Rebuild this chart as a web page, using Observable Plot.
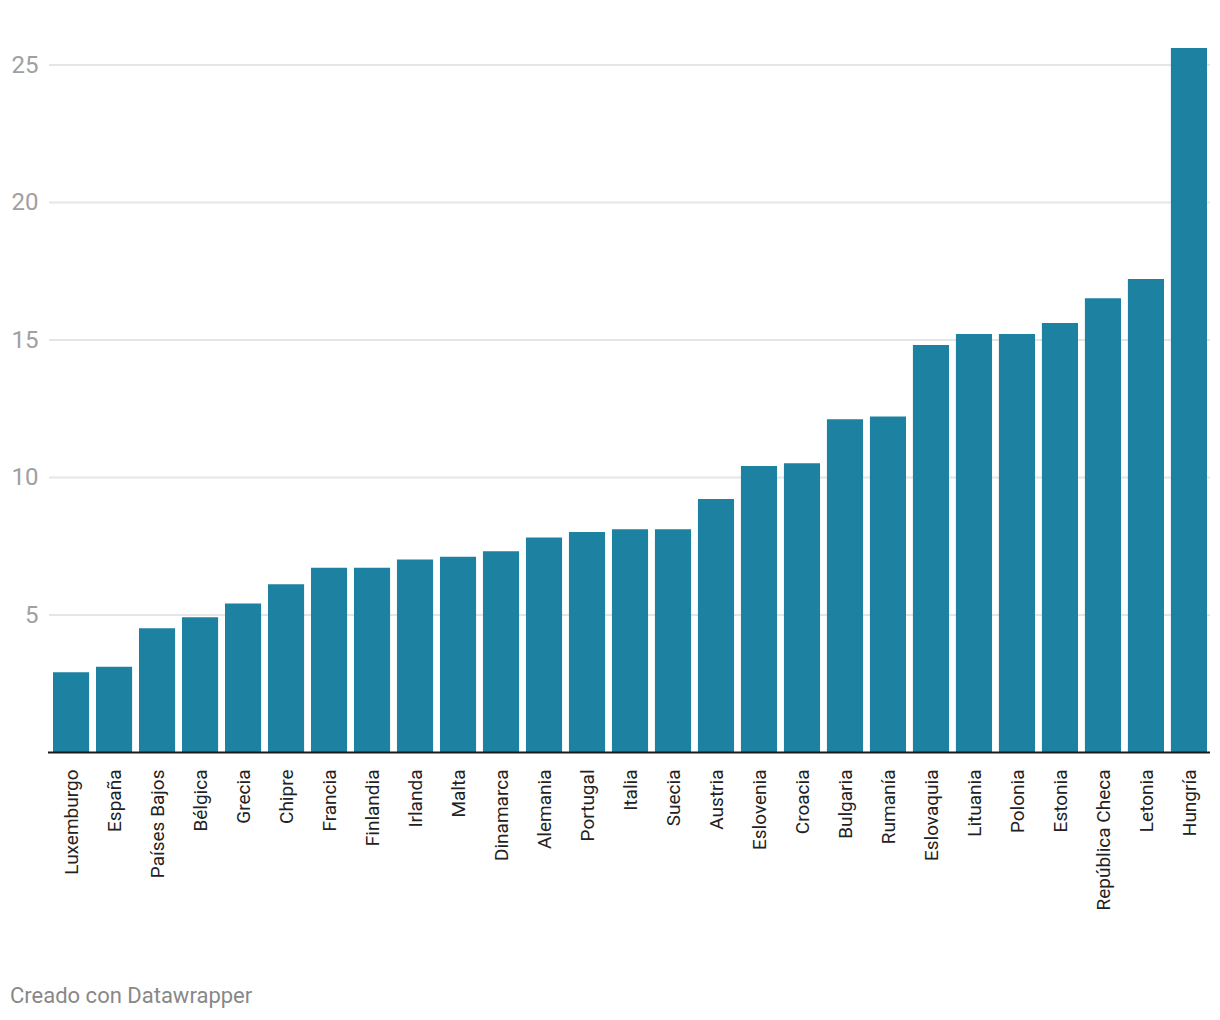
<!DOCTYPE html>
<html>
<head>
<meta charset="utf-8">
<script src="https://cdn.jsdelivr.net/npm/d3@7"></script>
<script src="https://cdn.jsdelivr.net/npm/@observablehq/plot@0.6"></script>
<style>
  html, body { margin: 0; padding: 0; background: #fff; }
  body { width: 1220px; height: 1020px; position: relative; font-family: Roboto, "Noto Sans", sans-serif; }
  #chart { position: absolute; left: 0; top: 0; }
  #footer { position: absolute; left: 10px; top: 983px; font-size: 22px; color: #888; font-family: Roboto, sans-serif; }
</style>
</head>
<body>
<div id="chart"></div>
<div id="footer">Creado con Datawrapper</div>
<script>
const countries = ["Luxemburgo","España","Países Bajos","Bélgica","Grecia","Chipre","Francia","Finlandia","Irlanda","Malta","Dinamarca","Alemania","Portugal","Italia","Suecia","Austria","Eslovenia","Croacia","Bulgaria","Rumanía","Eslovaquia","Lituania","Polonia","Estonia","República Checa","Letonia","Hungría"];
const values = [2.9,3.1,4.5,4.9,5.4,6.1,6.7,6.7,7.0,7.1,7.3,7.8,8.0,8.1,8.1,9.2,10.4,10.5,12.1,12.2,14.8,15.2,15.2,15.6,16.5,17.2,25.6];
const yTicks = [5,10,15,20,25];

const data = countries.map((c, i) => ({country: c, value: values[i]}));

const chart = Plot.plot({
  width: 1220,
  height: 960,
  marginLeft: 53,
  marginRight: 13,
  marginTop: 48,
  marginBottom: 208,
  style: {fontFamily: "Roboto, sans-serif", background: "#fff"},
  x: {domain: countries, paddingInner: 0.16, paddingOuter: 0, round: false, label: null},
  y: {domain: [0, d3.max(values)], label: null},
  marks: [
    Plot.gridY(yTicks, {stroke: "#e5e5e5", strokeOpacity: 1, strokeWidth: 2, insetLeft: -4, insetRight: -3}),
    Plot.barY(data, {x: "country", y: "value", fill: "#1d81a2"}),
    Plot.ruleY([0], {stroke: "#1a1a1a", strokeWidth: 2, insetLeft: -5, insetRight: -3}),
    Plot.axisY(yTicks, {tickSize: 0, tickPadding: 0, fontSize: 24, fill: "#a0a0a0", textAnchor: "end", dx: -15, dy: 0, label: null}),
    Plot.axisX({tickSize: 0, tickRotate: -90, tickPadding: 17, fontSize: 19, fill: "#222", label: null})
  ]
});
document.getElementById("chart").appendChild(chart);
</script>
</body>
</html>
